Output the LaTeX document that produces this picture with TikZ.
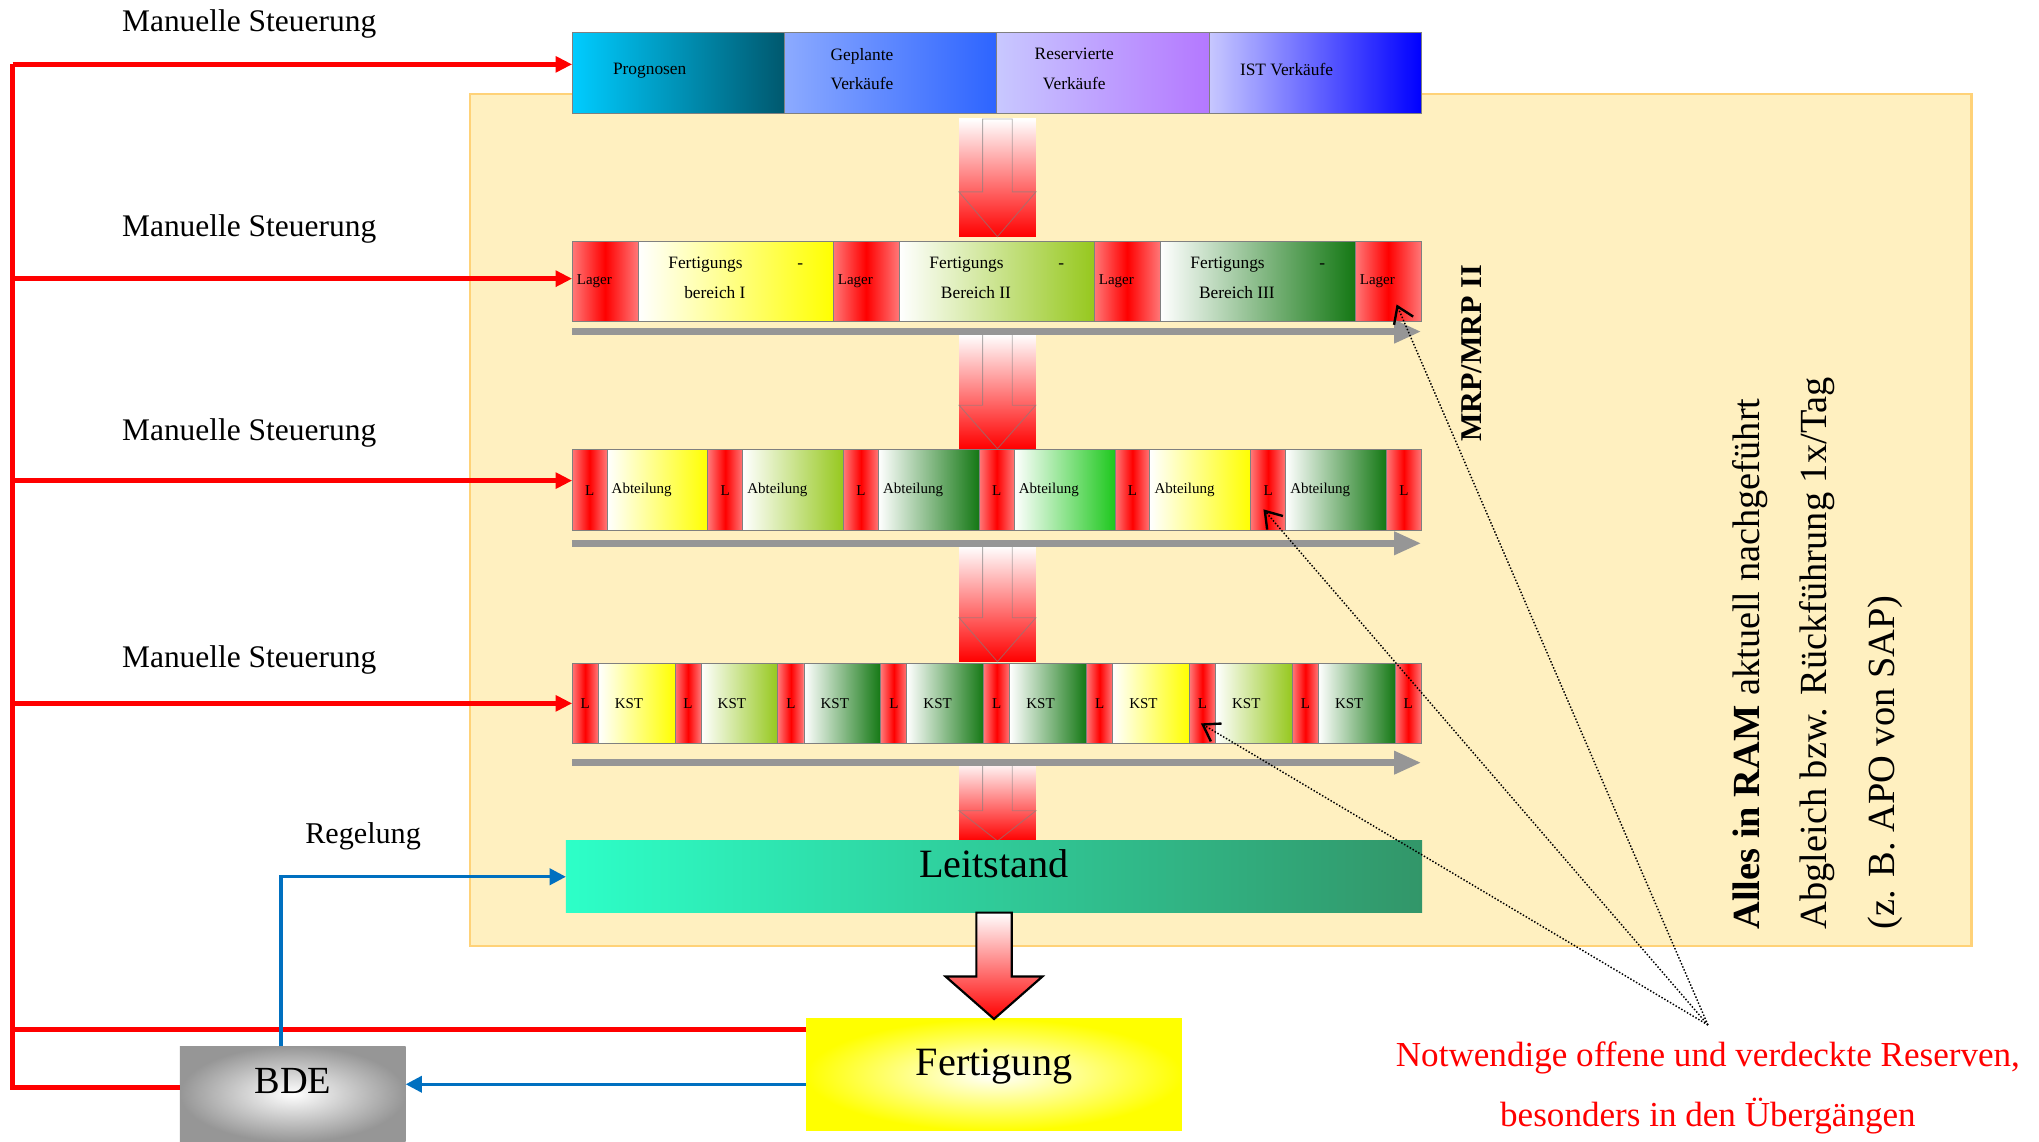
\documentclass[tikz,border=0pt]{standalone}
\usepackage{fontspec}
\setmainfont{Liberation Serif}
\usepackage{xcolor}
\usepackage{tikz}
\usetikzlibrary{arrows.meta, positioning, calc}
\definecolor{progleft}{RGB}{0, 204, 255}
\definecolor{progright}{RGB}{0, 88, 110}
\definecolor{geplleft}{RGB}{140, 170, 255}
\definecolor{geplright}{RGB}{45, 100, 255}
\definecolor{resvleft}{RGB}{200, 200, 255}
\definecolor{resvright}{RGB}{180, 120, 255}
\definecolor{istleft}{RGB}{200, 200, 255}
\definecolor{istright}{RGB}{0, 0, 255}
\definecolor{lagerlight}{RGB}{255, 120, 120}
\definecolor{cellyellow}{RGB}{255, 255, 0}
\definecolor{cellolive}{RGB}{150, 200, 30}
\definecolor{cellforest}{RGB}{20, 120, 20}
\definecolor{cellgreen}{RGB}{30, 200, 30}
\definecolor{panelfill}{RGB}{255, 240, 192}
\definecolor{paneledge}{RGB}{255, 210, 120}
\definecolor{leitleft}{RGB}{45, 255, 200}
\definecolor{leitright}{RGB}{50, 150, 105}
\definecolor{bdegray}{RGB}{150, 150, 150}
\definecolor{ctrlred}{RGB}{255, 0, 0}
\definecolor{fbblue}{RGB}{0, 112, 192}
\definecolor{flowgray}{RGB}{150, 150, 150}

\newcommand{\trailgap}[1]{\hbox to #1{}}
\newcommand{\blockedge}[1]{%
  \draw[arrowedge] ($(#1.north)+(-0.285,0)$) -- ($(#1.north)!0.62!(#1.south)+(-0.285,0)$)
    -- ($(#1.north west)!0.62!(#1.south west)$) -- (#1.south)
    -- ($(#1.north east)!0.62!(#1.south east)$) -- ($(#1.north)!0.62!(#1.south)+(0.285,0)$)
    -- ($(#1.north)+(0.285,0)$) -- cycle;}

\begin{document}
\begin{tikzpicture}[
    cell/.style={draw=gray, line width=0.5pt, minimum height=1.55cm, inner sep=0pt, outer sep=0pt},
    grad/.style={left color=white, right color=#1},
    redband/.style={left color=lagerlight, right color=lagerlight, middle color=red},
    salescell/.style={cell, minimum width=4.081cm, align=center, font=\fontsize{9.5}{16.3}\selectfont,
                      text depth=0.15cm},
    lagercell/.style={cell, redband, minimum width=1.27cm, inner xsep=0.09cm, text width=1.09cm,
                      align=left, font=\fontsize{8.2}{10}\selectfont},
    bereichcell/.style={cell, minimum width=3.748cm, align=center, font=\fontsize{9.5}{16}\selectfont,
                        text depth=0.15cm},
    lcell/.style={cell, redband, minimum width=0.67cm, font=\fontsize{8.2}{10}\selectfont},
    lsmall/.style={lcell, minimum width=0.5cm},
    abtcell/.style={cell, minimum width=1.939cm, inner xsep=0.09cm, text width=1.759cm,
                    align=left, font=\fontsize{8.2}{10}\selectfont},
    kstcell/.style={cell, minimum width=1.478cm, inner xsep=0.32cm, text width=0.838cm,
                    align=left, font=\fontsize{8.2}{10}\selectfont},
    downbox/.style={minimum width=1.4775cm, inner sep=0pt, outer sep=0pt, top color=white, bottom color=red},
    arrowedge/.style={draw=black!50, draw opacity=0.6, line width=0.5pt},
    panelbox/.style={draw=paneledge, fill=panelfill, line width=1.2pt, minimum width=28.865cm,
                     minimum height=16.3725cm, outer sep=0pt},
    leitbox/.style={minimum width=16.4625cm, minimum height=1.3775cm, inner sep=0pt, outer sep=0pt,
                    left color=leitleft, right color=leitright, font=\fontsize{22}{26}\selectfont,
                    text depth=0.52cm},
    fertbox/.style={minimum width=7.2275cm, minimum height=2.1475cm, inner sep=0pt, outer sep=0pt,
                    shading=radial, inner color=white, outer color=cellyellow,
                    font=\fontsize{22}{26}\selectfont, text depth=0.49cm},
    bdebox/.style={minimum width=4.3425cm, minimum height=1.84cm, inner sep=0pt, outer sep=0pt,
                   shading=radial, inner color=white, outer color=bdegray,
                   font=\fontsize{21}{25}\selectfont, text depth=0.48cm},
    lbl/.style={anchor=base, inner sep=0pt, font=\fontsize{17.2}{20}\selectfont},
    ctrl/.style={draw=ctrlred, line width=2.7pt},
    ctrlarrow/.style={ctrl, -{Triangle[length=3.2mm, width=3mm]}},
    fbline/.style={draw=fbblue, line width=1.8pt, -{Triangle[length=3.1mm, width=3.1mm]}},
    flow/.style={draw=flowgray, line width=3.6pt, -{Triangle[length=5.2mm, width=4.2mm]}},
    pointer/.style={densely dotted, line width=0.8pt, -{Straight Barb[length=3mm, width=4mm, line width=1.3pt]}}
]
    \useasboundingbox (0,0) rectangle (39.2,-21.95);

    % Background panel
    \node[panelbox] (ram) at (23.4675,-9.99375) {};

    % Sales bar
    \node[salescell, left color=progleft, right color=progright, anchor=west] (prog) at (11,-1.4025) {Prognosen\trailgap{1.1cm}};
    \node[salescell, left color=geplleft, right color=geplright, right=0pt of prog] (gepl) {Geplante\trailgap{1.1cm}\\Verkäufe\trailgap{1.1cm}};
    \node[salescell, left color=resvleft, right color=resvright, right=0pt of gepl] (resv) {Reservierte\trailgap{1.1cm}\\Verkäufe\trailgap{1.1cm}};
    \node[salescell, left color=istleft, right color=istright, right=0pt of resv] (ist) {IST Verkäufe\trailgap{1.1cm}};

    % Down arrows
    \node[downbox, minimum height=2.2625cm] (dn1) at (19.176,-3.41875) {};
    \node[downbox, minimum height=2.1975cm] (dn2) at (19.176,-7.5265) {};
    \node[downbox, minimum height=2.2225cm] (dn3) at (19.176,-11.609) {};
    \node[downbox, minimum height=1.53cm] (dn4) at (19.176,-15.4025) {};
    \blockedge{dn1}
    \blockedge{dn2}
    \blockedge{dn3}
    \blockedge{dn4}

    % Row 1: Fertigungsbereiche
    \node[lagercell, anchor=west] (la1) at (11,-5.4125) {Lager};
    \node[bereichcell, grad=cellyellow, right=0pt of la1] (fb1) {Fertigungs\hspace{1.05cm}-\\bereich I\trailgap{0.8cm}};
    \node[lagercell, right=0pt of fb1] (la2) {Lager};
    \node[bereichcell, grad=cellolive, right=0pt of la2] (fb2) {Fertigungs\hspace{1.05cm}-\\Bereich II\trailgap{0.8cm}};
    \node[lagercell, right=0pt of fb2] (la3) {Lager};
    \node[bereichcell, grad=cellforest, right=0pt of la3] (fb3) {Fertigungs\hspace{1.05cm}-\\Bereich III\trailgap{0.8cm}};
    \node[lagercell, right=0pt of fb3] (la4) {Lager};
    \draw[flow] ([yshift=-1.875mm]la1.south west) -- ([yshift=-1.875mm]la4.south east);

    % Row 2: Abteilungen
    \node[lcell, anchor=west] (lb1) at (11,-9.4225) {L};
    \node[abtcell, grad=cellyellow, right=0pt of lb1] (ab1) {Abteilung};
    \node[lcell, right=0pt of ab1] (lb2) {L};
    \node[abtcell, grad=cellolive, right=0pt of lb2] (ab2) {Abteilung};
    \node[lcell, right=0pt of ab2] (lb3) {L};
    \node[abtcell, grad=cellforest, right=0pt of lb3] (ab3) {Abteilung};
    \node[lcell, right=0pt of ab3] (lb4) {L};
    \node[abtcell, grad=cellgreen, right=0pt of lb4] (ab4) {Abteilung};
    \node[lcell, right=0pt of ab4] (lb5) {L};
    \node[abtcell, grad=cellyellow, right=0pt of lb5] (ab5) {Abteilung};
    \node[lcell, right=0pt of ab5] (lb6) {L};
    \node[abtcell, grad=cellforest, right=0pt of lb6] (ab6) {Abteilung};
    \node[lcell, right=0pt of ab6] (lb7) {L};
    \draw[flow] ([yshift=-2.475mm]lb1.south west) -- ([yshift=-2.475mm]lb7.south east);

    % Row 3: Kostenstellen
    \node[lsmall, anchor=west] (lc1) at (11,-13.5275) {L};
    \node[kstcell, grad=cellyellow, right=0pt of lc1] (ks1) {KST};
    \node[lsmall, right=0pt of ks1] (lc2) {L};
    \node[kstcell, grad=cellolive, right=0pt of lc2] (ks2) {KST};
    \node[lsmall, right=0pt of ks2] (lc3) {L};
    \node[kstcell, grad=cellforest, right=0pt of lc3] (ks3) {KST};
    \node[lsmall, right=0pt of ks3] (lc4) {L};
    \node[kstcell, grad=cellforest, right=0pt of lc4] (ks4) {KST};
    \node[lsmall, right=0pt of ks4] (lc5) {L};
    \node[kstcell, grad=cellforest, right=0pt of lc5] (ks5) {KST};
    \node[lsmall, right=0pt of ks5] (lc6) {L};
    \node[kstcell, grad=cellyellow, right=0pt of lc6] (ks6) {KST};
    \node[lsmall, right=0pt of ks6] (lc7) {L};
    \node[kstcell, grad=cellolive, right=0pt of lc7] (ks7) {KST};
    \node[lsmall, right=0pt of ks7] (lc8) {L};
    \node[kstcell, grad=cellforest, right=0pt of lc8] (ks8) {KST};
    \node[lsmall, right=0pt of ks8] (lc9) {L};
    \draw[flow] ([yshift=-3.6mm]lc1.south west) -- ([yshift=-3.6mm]lc9.south east);

    % Leitstand, Fertigung, BDE
    \node[leitbox] (leit) at (19.11,-16.856) {Leitstand};
    \node[fertbox] (fert) at (19.11,-20.664) {Fertigung};
    \node[bdebox] (bde) at (5.629,-21.03) {BDE};
    \shade[top color=white, bottom color=red, draw=black, line width=1.2pt, line join=miter]
        ([xshift=-3.39mm]leit.south) -- ++(0,-1.23) -- ++(-0.59,0) -- (fert.north)
        -- ++(0.929,0.8155) -- ++(-0.59,0) -- ([xshift=3.39mm]leit.south) -- cycle;

    % Side texts
    \node[rotate=90, anchor=base west, inner sep=0pt, font=\fontsize{16.5}{20}\selectfont\bfseries] (mrp) at (28.49,-8.5025) {MRP/MRP II};
    \node[rotate=90, anchor=north west, inner sep=0pt, align=left, font=\fontsize{21}{36.8}\selectfont] (ramnote) at (33.3,-17.875)
        {\textbf{Alles in RAM} aktuell nachgeführt\\Abgleich bzw. Rückführung 1x/Tag\\(z. B. APO von SAP)};

    % Manual control
    \node[lbl] (ms1) at (4.79,-0.61) {Manuelle Steuerung};
    \node[lbl] (ms2) at (4.79,-4.55) {Manuelle Steuerung};
    \node[lbl] (ms3) at (4.79,-8.4725) {Manuelle Steuerung};
    \node[lbl] (ms4) at (4.79,-12.83) {Manuelle Steuerung};
    \coordinate (bus1) at (0.2425,-1.2375);
    \coordinate (bus2) at (0.2425,-5.3575);
    \coordinate (bus3) at (0.2425,-9.24);
    \coordinate (bus4) at (0.2425,-13.5225);
    \draw[ctrl] (bus1) |- ([yshift=1.275mm]bde.west);
    \draw[ctrl] ([yshift=8.765mm]fert.west) -- ([yshift=8.765mm]fert.west -| bus1);
    \draw[ctrlarrow] (bus1) -- (bus1 -| prog.west);
    \draw[ctrlarrow] (bus2) -- (bus2 -| la1.west);
    \draw[ctrlarrow] (bus3) -- (bus3 -| lb1.west);
    \draw[ctrlarrow] (bus4) -- (bus4 -| lc1.west);

    % Feedback
    \node[lbl, font=\fontsize{16.5}{20}\selectfont] (regel) at (6.98,-16.21) {Regelung};
    \draw[fbline] ([xshift=-2.29mm]bde.north) |- (leit.west);
    \draw[fbline] ([yshift=-1.81mm]fert.west) -- ([yshift=-1.81mm]fert.west -| bde.east);

    % Reserves
    \node[align=center, text=ctrlred, inner sep=0pt, font=\fontsize{19.2}{33.1}\selectfont] (hint) at (32.835,-20.92)
        {Notwendige offene und verdeckte Reserven,\\besonders in den Übergängen};
    \coordinate (fan) at (32.835,-19.705);
    \draw[pointer] (fan) -- ([xshift=1.6mm, yshift=-4.4mm]la4.center);
    \draw[pointer] (fan) -- ([xshift=-0.9mm, yshift=-3.7mm]lb6.center);
    \draw[pointer] (fan) -- ([xshift=-0.3mm, yshift=-3.8mm]lc7.center);
\end{tikzpicture}
\end{document}
